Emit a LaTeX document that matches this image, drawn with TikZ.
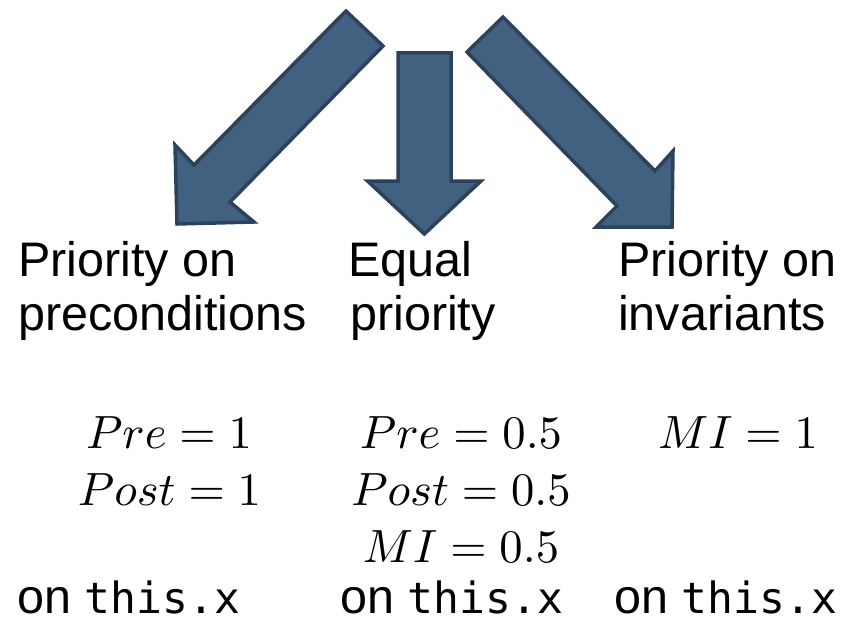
\documentclass[tikz,border=0pt]{standalone}
\usepackage{graphicx}
\usepackage[no-math]{fontspec}
\setmainfont{Liberation Sans}
\setmonofont{DejaVu Sans Mono}
\definecolor{arrowfill}{RGB}{66,96,127}
\definecolor{arrowline}{RGB}{44,66,92}
\tikzset{
  blockarrow/.style={fill=arrowfill, draw=arrowline, line width=3.5pt, line join=miter},
  headtxt/.style={inner sep=0pt, font=\fontsize{48.5}{53}\selectfont, anchor=base west},
  mathtxt/.style={inner sep=0pt, anchor=base},
  ontxt/.style={inner sep=0pt, font=\fontsize{48.5}{53}\selectfont, anchor=base west}
}
\newcommand{\thisx}{{\ttfamily\fontsize{43}{50}\selectfont this.x}}
\newcommand{\bigmath}[1]{\scalebox{4.66}{$#1$}}
\begin{document}
\begin{tikzpicture}[x=1pt,y=-1pt]
\useasboundingbox (0,0) rectangle (851,623);
% left arrow
\draw[blockarrow] (346,11) -- (383,46) -- (230,202) -- (254,222) -- (177,224) -- (175,145) -- (194,165) -- cycle;
% middle arrow
\draw[blockarrow] (398,53) -- (451,53) -- (451,181) -- (481,181) -- (424.3,234) -- (367.5,181) -- (398,181) -- cycle;
% right arrow
\draw[blockarrow] (467,52) -- (503,17) -- (655,171) -- (673,151) -- (672,227) -- (596,227) -- (617,206) -- cycle;
% headings
\node[headtxt] (h1a) at (18,276.7) {Priority on};
\node[headtxt] (h1b) at (18,330) {preconditions};
\node[headtxt] (h2a) at (348,276.7) {Equal};
\node[headtxt] (h2b) at (350,330) {priority};
\node[headtxt] (h3a) at (618,276.7) {Priority on};
\node[headtxt] (h3b) at (618,330) {invariants};
% formulas
\node[mathtxt] (m1a) at (169,448) {\bigmath{Pre=1}};
\node[mathtxt] (m1b) at (169.5,505) {\bigmath{Post=1}};
\node[mathtxt] (m2a) at (461,448) {\bigmath{Pre=0.5}};
\node[mathtxt] (m2b) at (461,505) {\bigmath{Post=0.5}};
\node[mathtxt] (m2c) at (461,562) {\bigmath{MI=0.5}};
\node[mathtxt] (m3a) at (738,448) {\bigmath{MI=1}};
% bottom
\node[ontxt] (o1) at (17,613) {on \thisx};
\node[ontxt] (o2) at (340,613) {on \thisx};
\node[ontxt] (o3) at (614,613) {on \thisx};
\end{tikzpicture}
\end{document}
